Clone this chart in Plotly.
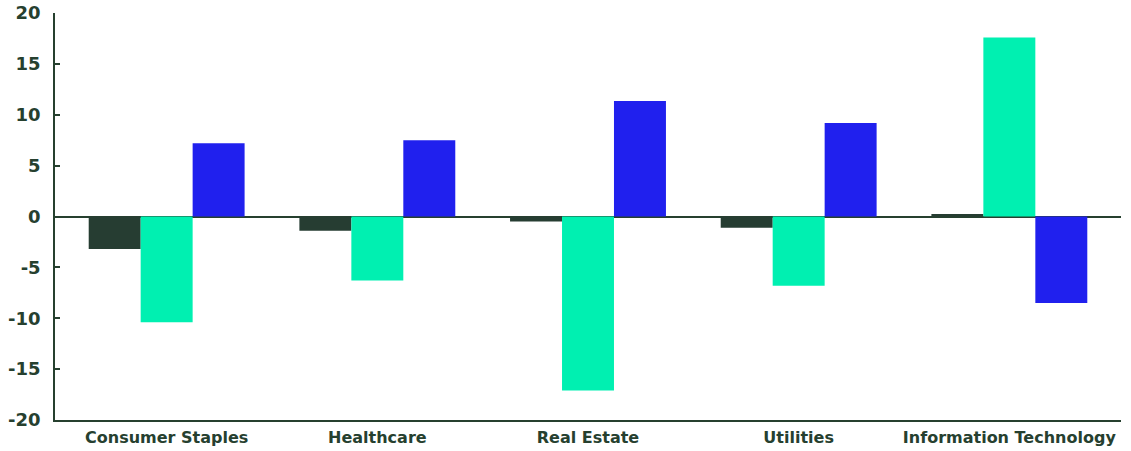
import plotly.graph_objects as go

categories = ["Consumer Staples", "Healthcare", "Real Estate", "Utilities", "Information Technology"]
series_a = [-3.2, -1.4, -0.5, -1.1, 0.25]
series_b = [-10.4, -6.3, -17.1, -6.8, 17.6]
series_c = [7.2, 7.5, 11.35, 9.2, -8.5]
y_ticks = [-20, -15, -10, -5, 0, 5, 10, 15, 20]
y_tick_labels = ["-20", "-15", "-10", "-5", "0", "5", "10", "15", "20"]

TEXT = "#26402f"
FONT = "DejaVu Sans, sans-serif"
fig = go.Figure()
for name, vals, col in [("A", series_a, "#263d32"), ("B", series_b, "#00f0b1"), ("C", series_c, "#2020ee")]:
    fig.add_trace(go.Bar(x=categories, y=vals, name=name, marker=dict(color=col, line=dict(width=0))))

fig.update_layout(
    width=1131, height=451,
    margin=dict(l=55, r=10, t=13, b=31, autoexpand=False),
    barmode="group", bargap=0.26, bargroupgap=0,
    plot_bgcolor="white", paper_bgcolor="white",
    showlegend=False,
    font=dict(family=FONT, color=TEXT),
)
fig.update_xaxes(
    range=[-0.53, 4.53], showgrid=False, zeroline=False, automargin=False,
    showline=True, linecolor=TEXT, linewidth=1.5,
    ticks="", ticklabelstandoff=2,
    tickfont=dict(size=16, color=TEXT, family=FONT, weight="bold"),
)
fig.update_yaxes(
    range=[-20, 20], tickvals=y_ticks, ticktext=y_tick_labels, showgrid=False, automargin=False,
    zeroline=True, zerolinecolor=TEXT, zerolinewidth=1.5,
    showline=True, linecolor=TEXT, linewidth=1.5,
    ticks="inside", ticklen=5, tickcolor=TEXT, tickwidth=1.5,
    ticklabelstandoff=9,
    tickfont=dict(size=18, color=TEXT, family=FONT, weight="bold"),
)
fig.write_html("out.html")
